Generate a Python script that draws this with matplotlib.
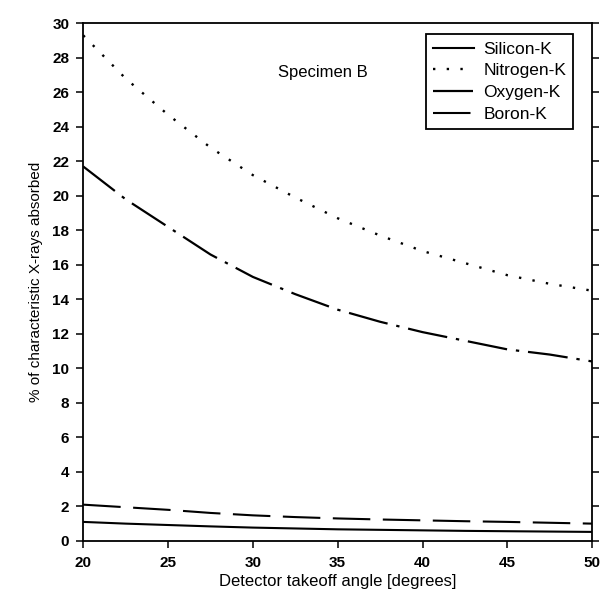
import matplotlib
matplotlib.use("Agg")
import matplotlib.pyplot as plt

plt.rcParams['font.family'] = ['Liberation Sans', 'DejaVu Sans']

# Detector takeoff angle (degrees)
angle = [20, 22.5, 25, 27.5, 30, 32.5, 35, 37.5, 40, 42.5, 45, 47.5, 50]

# Percentage of characteristic X-rays absorbed, Specimen B
silicon_k = [1.10, 1.00, 0.92, 0.84, 0.77, 0.72, 0.67, 0.64, 0.61, 0.58, 0.56, 0.54, 0.52]
nitrogen_k = [29.3, 26.8, 24.7, 22.8, 21.2, 19.9, 18.7, 17.7, 16.8, 16.1, 15.4, 14.9, 14.5]
oxygen_k = [21.7, 19.8, 18.2, 16.6, 15.3, 14.3, 13.4, 12.7, 12.1, 11.6, 11.1, 10.8, 10.4]
boron_k = [2.10, 1.95, 1.80, 1.62, 1.48, 1.38, 1.30, 1.24, 1.19, 1.14, 1.10, 1.05, 1.00]

x_ticks = [20, 25, 30, 35, 40, 45, 50]
y_ticks = list(range(0, 31, 2))

fig = plt.figure(figsize=(6.03, 5.97), dpi=100)
ax = fig.add_axes([0.138, 0.094, 0.844, 0.867])

ax.plot(angle, silicon_k, color='black', lw=1.5, linestyle='-', label='Silicon-K')
ax.plot(angle, nitrogen_k, color='black', lw=1.7, linestyle=(0, (1.0, 4.8)), label='Nitrogen-K')
ax.plot(angle, oxygen_k, color='black', lw=1.6, linestyle=(0, (18, 4, 1.5, 4)), label='Oxygen-K')
ax.plot(angle, boron_k, color='black', lw=1.5, linestyle=(0, (18, 6)), label='Boron-K')

ax.set_xlim(20, 50)
ax.set_ylim(0, 30)
ax.set_xticks(x_ticks)
ax.set_yticks(y_ticks)
ax.tick_params(axis='both', direction='out', length=5, width=1.1, labelsize=11)
ax.tick_params(axis='x', pad=6)
ax.tick_params(axis='y', pad=5, right=True, labelright=False)
for lbl in ax.get_xticklabels() + ax.get_yticklabels():
    lbl.set_fontweight('bold')
for sp in ax.spines.values():
    sp.set_linewidth(1.3)

ax.set_xlabel('Detector takeoff angle [degrees]', fontsize=12, labelpad=3)
ax.set_ylabel('% of characteristic X-rays absorbed', fontsize=11, labelpad=7)

ax.text(0.47, 0.905, 'Specimen B', transform=ax.transAxes, fontsize=12,
        ha='center', va='center')

leg = ax.legend(loc='upper right', bbox_to_anchor=(0.963, 0.979), borderaxespad=0,
                fancybox=False, edgecolor='black', framealpha=1, fontsize=12.5,
                handlelength=2.4, handletextpad=0.5, labelspacing=0.38,
                borderpad=0.42)
leg.get_frame().set_linewidth(1.3)

fig.savefig('out.png', dpi=100)
